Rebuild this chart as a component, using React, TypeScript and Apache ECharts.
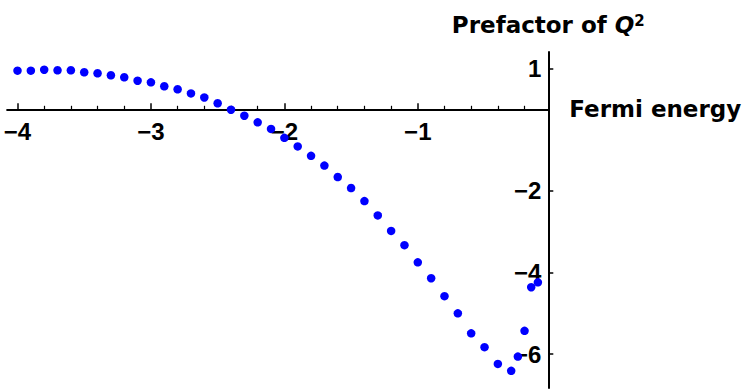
import React, { useEffect, useRef } from "react";
import * as echarts from "echarts";

const fermiEnergy = [
  -4.0, -3.9, -3.8, -3.7, -3.6, -3.5, -3.4, -3.3, -3.2, -3.1,
  -3.0, -2.9, -2.8, -2.7, -2.6, -2.5, -2.4, -2.3, -2.2, -2.1,
  -2.0, -1.9, -1.8, -1.7, -1.6, -1.5, -1.4, -1.3, -1.2, -1.1,
  -1.0, -0.9, -0.8, -0.7, -0.6, -0.5, -0.4, -0.3, -0.25, -0.2,
  -0.15, -0.1,
];
const prefactor = [
  0.946, 0.946, 0.97, 0.956, 0.956, 0.907, 0.882, 0.833, 0.784, 0.7,
  0.66, 0.564, 0.49, 0.39, 0.29, 0.147, -0.01, -0.157, -0.32, -0.48,
  -0.7, -0.91, -1.14, -1.38, -1.66, -1.93, -2.25, -2.6, -2.98, -3.33,
  -3.75, -4.14, -4.58, -5.0, -5.49, -5.83, -6.24, -6.41, -6.06, -5.43,
  -4.36, -4.24,
];
const xMajorTicks = [-4, -3, -2, -1];
const xMinorTicks = [-3.8, -3.6, -3.4, -3.2, -2.8, -2.6, -2.4, -2.2, -1.8, -1.6, -1.4, -1.2, -0.8, -0.6, -0.4, -0.2];
const yTicks = [1, -2, -4, -6];

const X_MIN = -4.078;
const X_MAX = -0.022;
const Y_MIN = -6.83;
const Y_MAX = 1.404;

const fmt = (v: number) => (v < 0 ? "\u2212" + Math.abs(v) : String(v));

export default function App() {
  const ref = useRef<HTMLDivElement>(null);
  useEffect(() => {
    if (!ref.current) return;
    const chart = echarts.init(ref.current, null, { renderer: "svg" });
    const tickFont = {
      fontFamily: "Liberation Sans",
      fontWeight: "bold" as const,
      fontSize: 24,
      color: "#000",
    };
    const nameFont = "DejaVu Sans";
    const LEFT = 7.1;
    const WIDTH = 541.2;
    const TOP = 52;
    const HEIGHT = 336;
    const ZERO_Y = TOP + (HEIGHT * Y_MAX) / (Y_MAX - Y_MIN);
    const hiddenY = (gridIndex: number) => ({
      type: "value",
      gridIndex,
      show: false,
      min: -1,
      max: 1,
    });
    chart.setOption({
      animation: false,
      backgroundColor: "#fff",
      grid: [
        { left: LEFT, top: TOP, width: WIDTH, height: HEIGHT, containLabel: false, outerBoundsMode: "none" },
        { left: LEFT, top: TOP, width: WIDTH, height: ZERO_Y - TOP, containLabel: false, outerBoundsMode: "none" },
        { left: LEFT, top: ZERO_Y, width: WIDTH, height: 100, containLabel: false, outerBoundsMode: "none" },
      ],
      xAxis: [
        {
          type: "value",
          gridIndex: 0,
          min: X_MIN,
          max: X_MAX,
          show: false,
          splitLine: { show: false },
        },
        {
          type: "value",
          gridIndex: 1,
          min: X_MIN,
          max: X_MAX,
          position: "bottom",
          axisLine: {
            show: true,
            onZero: false,
            lineStyle: { color: "#000", width: 2 },
          },
          axisTick: {
            show: true,
            customValues: xMajorTicks,
            inside: true,
            length: 6,
            lineStyle: { color: "#000", width: 1.5 },
          },
          axisLabel: {
            show: true,
            customValues: xMajorTicks,
            margin: 10,
            formatter: fmt,
            ...tickFont,
          },
          splitLine: { show: false },
          name: "Fermi energy",
          nameLocation: "end",
          nameGap: 21,
          nameTextStyle: {
            fontFamily: nameFont,
            fontWeight: "bold",
            fontSize: 23,
            color: "#000",
            verticalAlign: "middle",
          },
        },
        {
          type: "value",
          gridIndex: 2,
          min: X_MIN,
          max: X_MAX,
          position: "top",
          axisLine: { show: false, onZero: false },
          axisTick: {
            show: true,
            customValues: xMinorTicks,
            inside: false,
            length: 3.5,
            lineStyle: { color: "#000", width: 1.2 },
          },
          axisLabel: { show: false },
          splitLine: { show: false },
        },
      ],
      yAxis: [
        {
          type: "value",
          gridIndex: 0,
          min: Y_MIN,
          max: Y_MAX,
          position: "right",
          axisLine: {
            show: true,
            onZero: false,
            lineStyle: { color: "#000", width: 2 },
          },
          axisTick: {
            show: true,
            customValues: yTicks,
            inside: false,
            length: 5,
            lineStyle: { color: "#000", width: 1.5 },
          },
          axisLabel: {
            show: true,
            customValues: yTicks,
            inside: true,
            margin: 7,
            formatter: fmt,
            ...tickFont,
          },
          splitLine: { show: false },
          name: "{a|Prefactor of }{q|Q}{s|2}",
          nameLocation: "end",
          nameGap: 16,
          nameTextStyle: {
            color: "#000",
            rich: {
              a: { fontFamily: nameFont, fontWeight: "bold", fontSize: 23, color: "#000" },
              q: { fontFamily: nameFont, fontWeight: "bold", fontStyle: "italic", fontSize: 23, color: "#000" },
              s: { fontFamily: nameFont, fontWeight: "bold", fontSize: 15, color: "#000", verticalAlign: "top" },
            },
          },
        },
        hiddenY(1),
        hiddenY(2),
      ],
      series: [
        {
          type: "scatter",
          xAxisIndex: 0,
          yAxisIndex: 0,
          data: fermiEnergy.map((x, i) => [x, prefactor[i]]),
          symbol: "circle",
          symbolSize: 8.5,
          itemStyle: { color: "#0000ff", opacity: 1 },
          z: 5,
        },
      ],
    });
    return () => chart.dispose();
  }, []);
  return (
    <div
      ref={ref}
      style={{ position: "absolute", left: 0, top: 0, width: 750, height: 390 }}
    />
  );
}
